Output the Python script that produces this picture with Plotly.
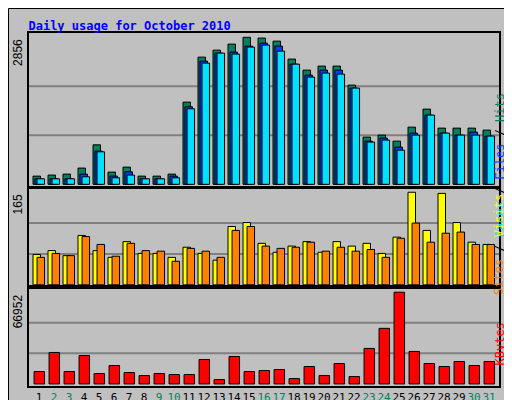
import plotly.graph_objects as go
from plotly.subplots import make_subplots

days = list(range(1, 32))
weekend_days = [2, 3, 9, 10, 16, 17, 23, 24, 30, 31]

hits = [159, 179, 198, 315, 767, 237, 334, 159, 159, 198, 1597, 2471, 2607, 2724, 2856, 2841,
        2782, 2433, 2219, 2297, 2297, 1927, 917, 956, 839, 1111, 1461, 1092, 1092, 1092, 1053]
files = [107, 107, 107, 198, 645, 159, 243, 107, 107, 159, 1506, 2394, 2549, 2569, 2685, 2743,
         2685, 2335, 2122, 2219, 2219, 1869, 839, 898, 723, 995, 1345, 995, 956, 1014, 937]
pages = [107, 107, 107, 146, 631, 126, 179, 107, 107, 126, 1467, 2355, 2549, 2530, 2666, 2705,
         2588, 2335, 2083, 2161, 2141, 1869, 820, 859, 664, 956, 1345, 995, 956, 956, 937]
visits = [54, 61, 52, 88, 61, 49, 77, 56, 56, 49, 67, 56, 44, 104, 111, 74,
          58, 69, 77, 58, 77, 69, 74, 56, 85, 165, 97, 163, 111, 76, 72]
sites = [49, 56, 52, 86, 72, 51, 74, 61, 60, 42, 65, 60, 49, 97, 104, 69,
         65, 67, 76, 60, 67, 60, 63, 49, 83, 110, 76, 92, 94, 72, 72]
kbytes = [9043, 22974, 9043, 20774, 7576, 13442, 8310, 6110, 7576, 6843, 6843, 17841, 3177, 20041, 9043, 9776,
          10509, 3910, 12709, 6110, 14908, 5377, 25906, 40570, 66952, 23707, 14908, 12709, 16375, 13442, 16375]

max_hits, max_visits, max_kb = 2856, 165, 66952

tick_text = [f"<span style='color:#00805c'>{d}</span>" if d in weekend_days else str(d) for d in days]

fig = make_subplots(rows=3, cols=1, shared_xaxes=True, vertical_spacing=0.0)

def bars(y, color, offset, width, row):
    fig.add_trace(go.Bar(x=days, y=y, offset=offset, width=width, marker_color=color,
                         marker_line_color="black", marker_line_width=1, showlegend=False), row=row, col=1)

bars(hits, "#00805c", -0.4, 0.5, 1)
bars(files, "#0040ff", -0.27, 0.5, 1)
bars(pages, "#00e0ff", -0.13, 0.5, 1)
bars(visits, "#ffff00", -0.4, 0.5, 2)
bars(sites, "#ff8000", -0.13, 0.5, 2)
bars(kbytes, "#ff0000", -0.33, 0.7, 3)

mono = "DejaVu Sans Mono"
fig.update_layout(
    width=512, height=400, barmode="overlay",
    margin=dict(l=21, r=21, t=25, b=22, autoexpand=False),
    paper_bgcolor="#c0c0c0", plot_bgcolor="#c0c0c0",
    font=dict(family=mono, size=12, color="black"),
    title=dict(text="<b>Daily usage for October 2010</b>", x=0.04, xanchor="left", y=0.965,
               font=dict(family=mono, size=12, color="#0000ff")),
)

axis_common = dict(showline=True, linecolor="black", linewidth=2, mirror=True, showgrid=False,
                   zeroline=False, showticklabels=False, ticks="", automargin=False)
fig.update_xaxes(range=[0.333, 31.667], **axis_common)
fig.update_xaxes(showticklabels=True, tickvals=days, ticktext=tick_text, tickangle=0, row=3, col=1,
                 tickfont=dict(family=mono, size=11))

fig.update_yaxes(**axis_common)
fig.update_layout(
    yaxis=dict(domain=[0.567, 1], range=[-30, 2940]),
    yaxis2=dict(domain=[0.285, 0.559], range=[-1, 171.4]),
    yaxis3=dict(domain=[0, 0.276], range=[-1500, 69590]),
)

shapes = []
for yref, top in [("y", max_hits), ("y2", max_visits), ("y3", max_kb)]:
    for frac in (1 / 3, 2 / 3):
        shapes.append(dict(type="line", xref="paper", yref=yref, x0=0, x1=1,
                           y0=top * frac, y1=top * frac, line=dict(color="#808080", width=2), layer="below"))
# outer frame and shadow
shapes.append(dict(type="rect", xref="paper", yref="paper", x0=-20.5 / 470, x1=490.5 / 470,
                   y0=-21.5 / 353, y1=377.5 / 353, line=dict(color="black", width=1)))
shapes.append(dict(type="rect", xref="paper", yref="paper", x0=484 / 470, x1=490 / 470,
                   y0=-16 / 353, y1=372 / 353, fillcolor="#808080", line_width=0))
shapes.append(dict(type="rect", xref="paper", yref="paper", x0=-16 / 470, x1=490 / 470,
                   y0=-21 / 353, y1=-15 / 353, fillcolor="#808080", line_width=0))
fig.update_layout(shapes=shapes)

left_labels = [("y", max_hits, "2856"), ("y2", max_visits, "165"), ("y3", max_kb, "66952")]
for yref, top, txt in left_labels:
    fig.add_annotation(text=txt, xref="paper", yref=yref, x=-0.004, y=top, xanchor="right",
                       yanchor="top", textangle=-90, showarrow=False,
                       font=dict(family="Liberation Sans", size=12, color="black"))

right_labels = [
    (83, "<span style='color:#00e0ff'>Pages</span> / <span style='color:#0040ff'>Files</span>"
         " / <span style='color:#00805c'>Hits</span>"),
    (237, "<span style='color:#ff8000'>Sites</span> / <span style='color:#ffff00'>Visits</span>"),
    (360, "<span style='color:#ff0000'>KBytes</span>"),
]
for ypx, txt in right_labels:
    fig.add_annotation(text=txt, xref="paper", yref="paper", x=479 / 470, y=(378 - ypx) / 353,
                       textangle=-90, showarrow=False, font=dict(family=mono, size=12))

fig.write_html("out.html")
